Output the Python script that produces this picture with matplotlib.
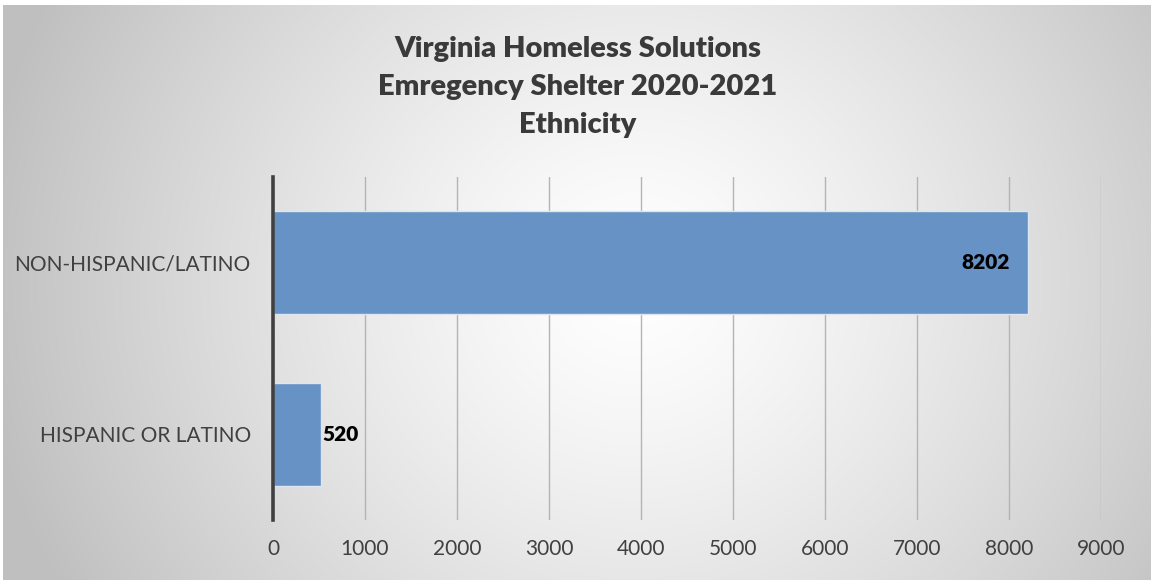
import numpy as np
import matplotlib.pyplot as plt

categories = ["HISPANIC OR LATINO", "NON-HISPANIC/LATINO"]
values = [520, 8202]
xticks = [0, 1000, 2000, 3000, 4000, 5000, 6000, 7000, 8000, 9000]
title = "Virginia Homeless Solutions\nEmregency Shelter 2020-2021\nEthnicity"

plt.rcParams['font.family'] = ['Lato', 'DejaVu Sans']

fig = plt.figure(figsize=(11.51, 5.80), dpi=100)

# radial gradient background
bg = fig.add_axes([0.003, 0, 0.997, 0.991])
h, w = 300, 600
yy, xx = np.mgrid[0:h, 0:w]
cx, cy = 0.55 * w, 0.48 * h
r = np.sqrt(((xx - cx) / (w * 0.5)) ** 2 + ((yy - cy) / (h * 0.5 * 1.9)) ** 2)
r = np.clip(r / 1.15, 0, 1)
g = 1 - 0.25 * r ** 1.3
bg.imshow(np.dstack([g, g, g]), aspect='auto', extent=[0, 1, 0, 1])
bg.axis('off')

ax = fig.add_axes([273 / 1151, 1 - 520 / 580, (1101 - 273) / 1151, (520 - 177) / 580])
ax.patch.set_alpha(0)
ax.set_axisbelow(True)
ax.barh(categories, values, height=0.6, color='#6692c5', edgecolor='#dce6f2', linewidth=1)
ax.set_xlim(0, 9000)
ax.set_ylim(-0.5, 1.5)
ax.set_xticks(xticks)
ax.grid(axis='x', color='#b4b4b4', linewidth=1)
for s in ['top', 'right', 'bottom']:
    ax.spines[s].set_visible(False)
ax.spines['left'].set_color('#404040')
ax.spines['left'].set_linewidth(2.6)
ax.tick_params(length=0, labelsize=15, labelcolor='#404040')
ax.tick_params(axis='x', pad=14)
ax.tick_params(axis='y', pad=16)

ax.text(values[1] - 190, 1, str(values[1]), ha='right', va='center', fontsize=15, fontweight='heavy', color='black')
ax.text(values[0] + 20, 0, str(values[0]), ha='left', va='center', fontsize=15, fontweight='heavy', color='black')

fig.text(0.502, 1 - 87 / 580, title, ha='center', va='center', fontsize=21, fontweight='heavy',
         color='#3a3a3a', linespacing=1.55)

fig.savefig('out.png', dpi=100)
